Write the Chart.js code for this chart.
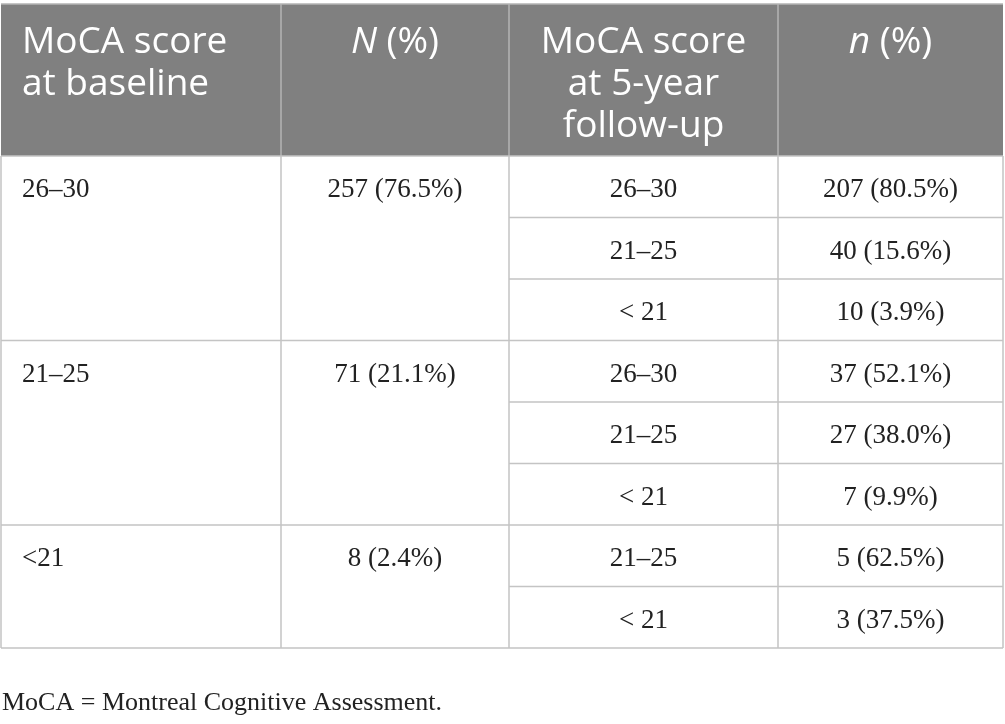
<!DOCTYPE html>
<html>
<head>
<meta charset="utf-8">
<script src="https://cdn.jsdelivr.net/npm/chart.js@4.4.1/dist/chart.umd.min.js"></script>
<style>
  html, body { margin: 0; padding: 0; background: #fff; }
  #wrap { width: 1005px; height: 724px; }
</style>
</head>
<body>
<div id="wrap"><canvas id="tableChart" width="1005" height="724"></canvas></div>
<script>
// header labels (lines), italic letter marked separately
const headerCol1 = ['MoCA score', 'at baseline'];
const headerCol2 = ['N', ' (%)'];
const headerCol3 = ['MoCA score', 'at 5-year', 'follow-up'];
const headerCol4 = ['n', ' (%)'];

// baseline groups
const baselineScores = ['26–30', '21–25', '<21'];
const baselineCounts = [257, 71, 8];
const baselinePct = [76.5, 21.1, 2.4];

// 5-year follow-up, per baseline group
const followScores = [
  ['26–30', '21–25', '< 21'],
  ['26–30', '21–25', '< 21'],
  ['21–25', '< 21']
];
const followCounts = [
  [207, 40, 10],
  [37, 27, 7],
  [5, 3]
];
const followPct = [
  [80.5, 15.6, 3.9],
  [52.1, 38.0, 9.9],
  [62.5, 37.5]
];

const footnote = 'MoCA = Montreal Cognitive Assessment.';

// layout (pixel units on the chart scales)
const colEdges = [1, 281, 509, 778, 1003];
const headerTop = 4;
const headerBottom = 156;
const rowHeight = 61.5;

const fmt = (n, p) => n + ' (' + p.toFixed(1) + '%)';

const tablePlugin = {
  id: 'tablePlugin',
  afterDraw(chart) {
    const ctx = chart.ctx;
    const xs = chart.scales.x, ys = chart.scales.y;
    const X = v => xs.getPixelForValue(v);
    const Y = v => ys.getPixelForValue(v);
    const left = X(colEdges[0]), right = X(colEdges[colEdges.length - 1]);
    const totalRows = followScores.reduce((s, g) => s + g.length, 0);
    const bodyBottom = headerBottom + totalRows * rowHeight;

    ctx.save();
    // header band
    ctx.fillStyle = '#808080';
    ctx.fillRect(left, Y(headerTop), right - left, Y(headerBottom) - Y(headerTop));
    ctx.strokeStyle = '#b4b4b4';
    ctx.lineWidth = 1.5;
    ctx.beginPath();
    ctx.moveTo(left, Y(headerTop)); ctx.lineTo(right, Y(headerTop));
    colEdges.slice(1, -1).forEach(e => { ctx.moveTo(X(e), Y(headerTop)); ctx.lineTo(X(e), Y(headerBottom)); });
    ctx.stroke();

    // header text
    const hFont = '37px "Open Sans", sans-serif';
    const hFontI = 'italic 37px "Open Sans", sans-serif';
    ctx.fillStyle = '#ffffff';
    ctx.textBaseline = 'alphabetic';
    const hBase = 53, hLine = 42;
    ctx.font = hFont;
    ctx.textAlign = 'left';
    headerCol1.forEach((t, i) => ctx.fillText(t, X(colEdges[0] + 21), Y(hBase + i * hLine)));
    ctx.textAlign = 'center';
    headerCol3.forEach((t, i) => ctx.fillText(t, X((colEdges[2] + colEdges[3]) / 2), Y(hBase + i * hLine)));
    // italic N / n followed by " (%)"
    [[headerCol2, 1], [headerCol4, 3]].forEach(([h, c]) => {
      ctx.font = hFontI; const w1 = ctx.measureText(h[0]).width;
      ctx.font = hFont; const w2 = ctx.measureText(h[1]).width;
      const cx = (X(colEdges[c]) + X(colEdges[c + 1])) / 2;
      const x0 = cx - (w1 + w2) / 2;
      ctx.textAlign = 'left';
      ctx.font = hFontI; ctx.fillText(h[0], x0, Y(hBase));
      ctx.font = hFont; ctx.fillText(h[1], x0 + w1, Y(hBase));
    });

    // body grid
    ctx.strokeStyle = '#c4c4c4';
    ctx.lineWidth = 1.5;
    ctx.beginPath();
    ctx.moveTo(left, Y(headerBottom)); ctx.lineTo(right, Y(headerBottom));
    colEdges.forEach(e => { ctx.moveTo(X(e), Y(headerBottom)); ctx.lineTo(X(e), Y(bodyBottom)); });
    let r = 0;
    followScores.forEach(g => {
      g.forEach((_, k) => {
        const yb = headerBottom + (r + k + 1) * rowHeight;
        const x0 = (k === g.length - 1) ? colEdges[0] : colEdges[2];
        ctx.moveTo(X(x0), Y(yb)); ctx.lineTo(right, Y(yb));
      });
      r += g.length;
    });
    ctx.stroke();

    // body text
    ctx.fillStyle = '#222222';
    ctx.font = '27px "Liberation Serif", "Times New Roman", serif';
    const bBase = 41;
    r = 0;
    followScores.forEach((g, gi) => {
      const top = headerBottom + r * rowHeight;
      ctx.textAlign = 'left';
      ctx.fillText(baselineScores[gi], X(colEdges[0] + 21), Y(top + bBase));
      ctx.textAlign = 'center';
      ctx.fillText(fmt(baselineCounts[gi], baselinePct[gi]), X((colEdges[1] + colEdges[2]) / 2), Y(top + bBase));
      g.forEach((s, k) => {
        const t = top + k * rowHeight + bBase;
        ctx.fillText(s, X((colEdges[2] + colEdges[3]) / 2), Y(t));
        ctx.fillText(fmt(followCounts[gi][k], followPct[gi][k]), X((colEdges[3] + colEdges[4]) / 2), Y(t));
      });
      r += g.length;
    });

    // footnote
    ctx.textAlign = 'left';
    ctx.font = '26px "Liberation Serif", "Times New Roman", serif';
    ctx.fillText(footnote, X(2), Y(710));
    ctx.restore();
  }
};

new Chart(document.getElementById('tableChart'), {
  type: 'scatter',
  data: { datasets: [{ data: [], pointRadius: 0 }] },
  options: {
    responsive: false,
    animation: false,
    events: [],
    layout: { padding: 0 },
    plugins: { legend: { display: false }, tooltip: { enabled: false } },
    scales: {
      x: { type: 'linear', min: 0, max: 1005, display: false },
      y: { type: 'linear', min: 0, max: 724, reverse: true, display: false }
    }
  },
  plugins: [tablePlugin]
});
</script>
</body>
</html>
